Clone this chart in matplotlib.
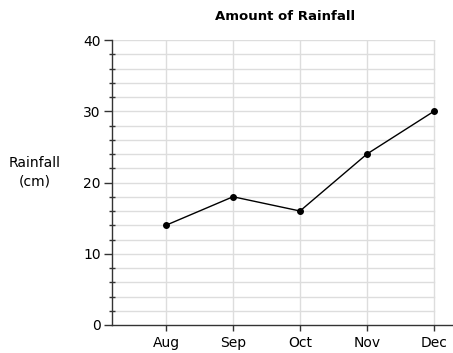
import matplotlib
matplotlib.use("Agg")
import matplotlib.pyplot as plt
import numpy as np

months = ["Aug", "Sep", "Oct", "Nov", "Dec"]
rainfall = [14, 18, 16, 24, 30]
y_major = [0, 10, 20, 30, 40]

plt.rcParams['font.family'] = ['DejaVu Sans']
fig = plt.figure(figsize=(4.53, 3.53), dpi=100)
ax = fig.add_axes([112/453, 1-325/353, (453-112)/453, (325-40)/353])

x = np.arange(1, len(months)+1)
xmin, xmax = 1 - 54/67, 5 + 19/67
ax.set_xlim(xmin, xmax)
ax.set_ylim(0, 40)

# grid
for yv in np.arange(2, 41, 2):
    ax.plot([xmin, 5], [yv, yv], color="#dddddd", lw=1, zorder=0)
for xv in x:
    ax.plot([xv, xv], [0, 40], color="#dddddd", lw=1, zorder=0)

ax.plot(x, rainfall, color="black", lw=1, marker="o", ms=4, zorder=3)

for s in ["top", "right"]:
    ax.spines[s].set_visible(False)
ax.spines["left"].set_bounds(0, 40)
ax.spines["left"].set_linewidth(1)
ax.spines["bottom"].set_linewidth(1)
ax.spines["left"].set_color("#333333")
ax.spines["bottom"].set_color("#333333")

ax.set_xticks(x)
ax.set_xticklabels(months, fontsize=10)
ax.set_yticks(y_major)
ax.set_yticklabels([str(v) for v in y_major], fontsize=10)
ax.set_yticks(np.arange(0, 41, 2), minor=True)
ax.tick_params(axis="y", which="major", direction="out", length=6, width=1, pad=2, color="#333333")
ax.tick_params(axis="y", which="minor", direction="inout", length=4, width=1, color="#333333")
ax.tick_params(axis="x", which="major", direction="out", length=4, width=1, pad=4, color="#333333")

fig.text(285/453, 1-16/353, "Amount of Rainfall", ha="center", va="center", fontsize=9.5, fontweight="bold")
fig.text(35/453, 1-172/353, "Rainfall\n(cm)", ha="center", va="center", fontsize=10, linespacing=1.4)

fig.savefig("out.png", dpi=100)
